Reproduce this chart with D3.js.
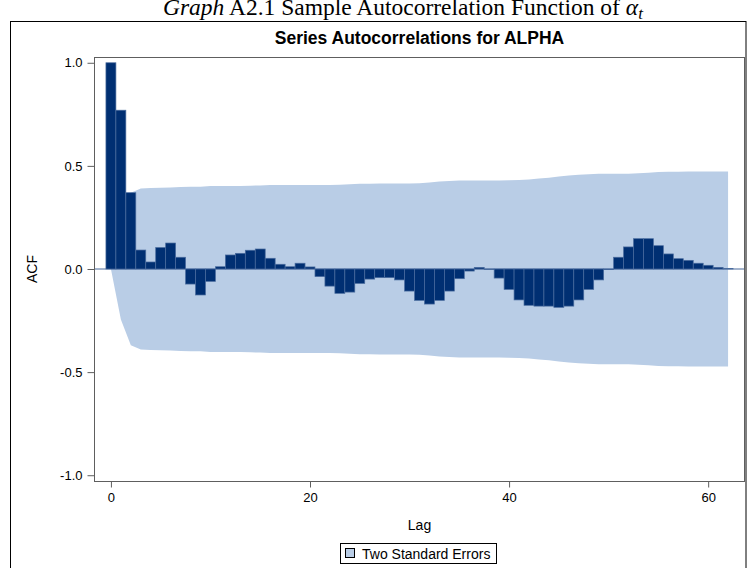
<!DOCTYPE html>
<html>
<head>
<meta charset="utf-8">
<script src="https://cdn.jsdelivr.net/npm/d3@7"></script>
<style>
  html, body { margin: 0; padding: 0; background: #fff; }
  svg { display: block; }
</style>
</head>
<body>
<svg id="chart" width="747" height="568"></svg>
<script>
// ---- data ----
const lags = d3.range(0, 63);
const acfValues = [
  1.000, 0.770, 0.370, 0.092, 0.034, 0.104, 0.126, 0.057, -0.073, -0.126,
  -0.060, 0.011, 0.068, 0.076, 0.091, 0.097, 0.052, 0.023, 0.011, 0.028,
  0.010, -0.037, -0.083, -0.118, -0.112, -0.070, -0.049, -0.042, -0.042, -0.053,
  -0.107, -0.152, -0.170, -0.152, -0.107, -0.047, -0.010, 0.008, -0.002, -0.044,
  -0.099, -0.150, -0.176, -0.180, -0.180, -0.186, -0.180, -0.150, -0.099, -0.053,
  -0.003, 0.057, 0.107, 0.147, 0.147, 0.113, 0.073, 0.050, 0.042, 0.028,
  0.018, 0.008, 0.002
];
const twoStdErr = [
  0.000, 0.245, 0.370, 0.390, 0.393, 0.394, 0.395, 0.398, 0.399, 0.399,
  0.402, 0.402, 0.402, 0.403, 0.404, 0.405, 0.407, 0.407, 0.407, 0.407,
  0.407, 0.407, 0.407, 0.408, 0.411, 0.413, 0.413, 0.414, 0.414, 0.415,
  0.415, 0.416, 0.420, 0.424, 0.427, 0.429, 0.429, 0.429, 0.429, 0.429,
  0.430, 0.431, 0.434, 0.439, 0.443, 0.448, 0.453, 0.457, 0.460, 0.462,
  0.462, 0.462, 0.462, 0.464, 0.467, 0.470, 0.471, 0.472, 0.473, 0.473,
  0.473, 0.473, 0.473
];
const yTicks = [-1.0, -0.5, 0.0, 0.5, 1.0];
const xTicks = [0, 20, 40, 60];
const chartTitle = "Series Autocorrelations for ALPHA";
const xLabel = "Lag";
const yLabel = "ACF";
const legendLabel = "Two Standard Errors";

// ---- layout ----
const svg = d3.select("#chart");
const L = 94, R = 745, T = 57, B = 481;
const sansFont = "'Liberation Sans', Arial, sans-serif";

const x = d3.scaleLinear().domain([-1.7, 63.7]).range([L, R]);
const y = d3.scaleLinear().domain([-1.028, 1.028]).range([B, T]);

// outer border
svg.append("rect")
  .attr("x", 10.5).attr("y", 21.5).attr("width", 735.5).attr("height", 600)
  .attr("fill", "none").attr("stroke", "#000").attr("stroke-width", 1);

// header caption (partially clipped at top, as in the source)
const cap = svg.append("text")
  .attr("x", 163).attr("y", 15)
  .attr("font-family", "'Liberation Serif', 'Times New Roman', serif")
  .attr("font-size", 23.5).attr("fill", "#000");
cap.append("tspan").attr("font-style", "italic").text("Graph");
cap.append("tspan").text(" A2.1 Sample Autocorrelation Function of ");
cap.append("tspan").attr("font-style", "italic").text("α");
cap.append("tspan").attr("font-style", "italic").attr("font-size", 17).attr("dy", 4).text("t");

// chart title
svg.append("text")
  .attr("x", (L + R) / 2).attr("y", 44)
  .attr("text-anchor", "middle")
  .attr("font-family", sansFont).attr("font-weight", "bold")
  .attr("font-size", 17.5).attr("fill", "#000")
  .text(chartTitle);

// clip
svg.append("clipPath").attr("id", "plotclip")
  .append("rect").attr("x", L).attr("y", T).attr("width", R - L).attr("height", B - T);
const plot = svg.append("g").attr("clip-path", "url(#plotclip)");

// band
const band = d3.area()
  .x((d, i) => x(lags[i]))
  .y0((d) => y(-d))
  .y1((d) => y(d));
plot.append("path")
  .datum(twoStdErr)
  .attr("d", band)
  .attr("fill", "#b9cde6");

// zero line
plot.append("line")
  .attr("x1", L).attr("x2", R)
  .attr("y1", y(0)).attr("y2", y(0))
  .attr("stroke", "#4a6b9c").attr("stroke-width", 1.2);

// bars
const bw = x(1) - x(0);
plot.selectAll("rect.bar")
  .data(acfValues)
  .join("rect")
  .attr("class", "bar")
  .attr("x", (d, i) => x(lags[i]) - bw / 2)
  .attr("width", bw)
  .attr("y", (d) => y(Math.max(d, 0)))
  .attr("height", (d) => Math.abs(y(d) - y(0)))
  .attr("fill", "#002f72")
  .attr("stroke", "#4a6c9e").attr("stroke-width", 0.7);

// frame
svg.append("rect")
  .attr("x", L + 0.5).attr("y", T + 0.5)
  .attr("width", R - L - 1).attr("height", B - T)
  .attr("fill", "none").attr("stroke", "#5e5e5e").attr("stroke-width", 1);

// axes
const yAxis = svg.append("g")
  .attr("transform", `translate(${L + 0.5},0)`)
  .call(d3.axisLeft(y).tickValues(yTicks).tickFormat(d => d.toFixed(1)).tickSize(7).tickPadding(5));
const xAxis = svg.append("g")
  .attr("transform", `translate(0,${B + 0.5})`)
  .call(d3.axisBottom(x).tickValues(xTicks).tickFormat(d => String(d)).tickSize(6).tickPadding(5));
[yAxis, xAxis].forEach(g => {
  g.select(".domain").remove();
  g.selectAll(".tick line").attr("stroke", "#5e5e5e");
  g.selectAll(".tick text")
    .attr("font-family", sansFont).attr("font-size", 13).attr("fill", "#000");
});

// axis labels
svg.append("text")
  .attr("transform", `translate(37,${y(0)}) rotate(-90)`)
  .attr("text-anchor", "middle")
  .attr("font-family", sansFont).attr("font-size", 14).attr("fill", "#000")
  .text(yLabel);
svg.append("text")
  .attr("x", (L + R) / 2).attr("y", 530)
  .attr("text-anchor", "middle")
  .attr("font-family", sansFont).attr("font-size", 14).attr("fill", "#000")
  .text(xLabel);

// legend
const lg = svg.append("g");
lg.append("rect")
  .attr("x", 340.5).attr("y", 543.5).attr("width", 156).attr("height", 20)
  .attr("fill", "#fff").attr("stroke", "#000").attr("stroke-width", 1);
lg.append("rect")
  .attr("x", 345.5).attr("y", 548.5).attr("width", 9).attr("height", 9)
  .attr("fill", "#b9cde6").attr("stroke", "#000").attr("stroke-width", 1);
lg.append("text")
  .attr("x", 362).attr("y", 558.5)
  .attr("font-family", sansFont).attr("font-size", 14).attr("fill", "#000")
  .text(legendLabel);
</script>
</body>
</html>
